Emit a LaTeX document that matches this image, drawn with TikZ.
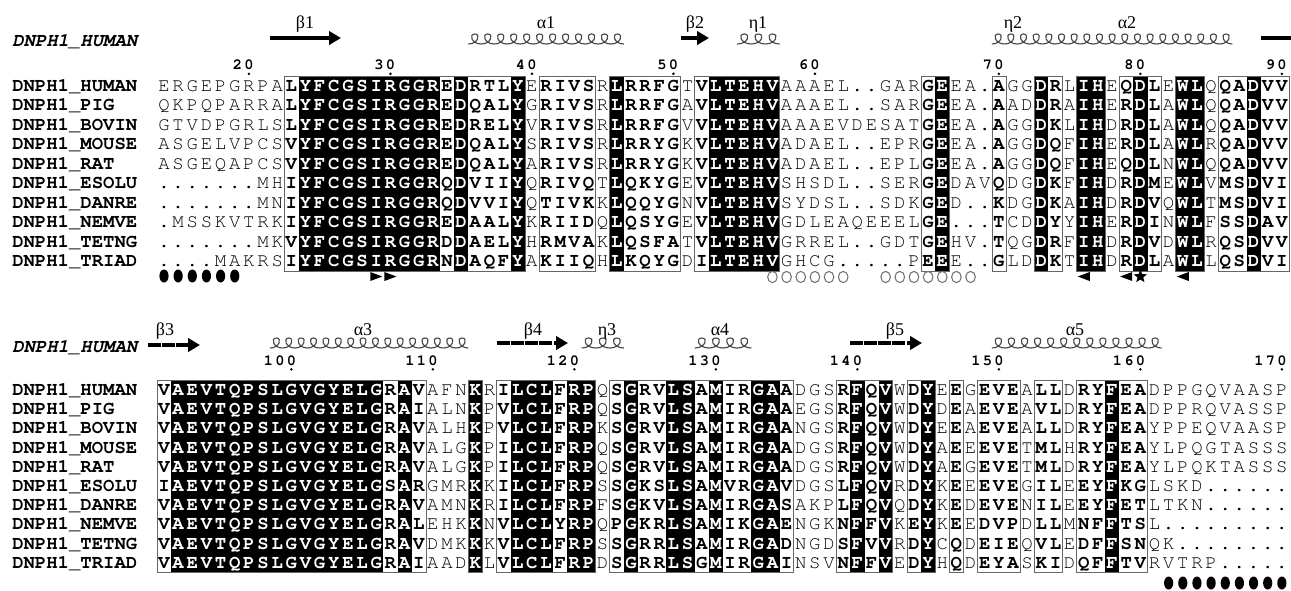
\documentclass[tikz,border=0pt]{standalone}
\usepackage{fontspec}
\setmainfont{Liberation Serif}
\setmonofont{texgyrecursor}[Extension=.otf,UprightFont=*-regular,BoldFont=*-bold,ItalicFont=*-italic,BoldItalicFont=*-bolditalic]
\usetikzlibrary{arrows.meta,shapes.geometric}

\newcommand\seqfont{\ttfamily\fontsize{14.2}{16}\selectfont}
% column classes: n plain, b similar (bold), k identical (black)
\newcommand\topcls{nnnnnnnnnb kkkkkkkkkk bkbbbknbbb bnkbbbbnbk kkkknnnnnn nnnnbknnnb nnkbnkknbk bnkknbbkbb}
\newcommand\botcls{bkkkkkkkkk kkkkkkbkbn nnknbkkkbk knbkbbkkbk bbkkbnnnbk bknbknbnbb bnbbnbbkbb nnnnnnnnnn}
% gaps are typed as - and printed as .
\def\resloop#1#2\relax#3#4\relax{%
  \node[res#1] (\rowtag-\colno) at ({164+14.15*\colno},\rowy) {\ifx-#3.\else#3\fi};%
  \pgfmathtruncatemacro\colno{\colno+1}%
  \ifx\relax#2\relax\else\resloop#2\relax#4\relax\fi}
\newcommand\resrow[4]{\def\rowtag{#1}\def\rowy{#2}\def\colno{0}%
  \edef\next{\noexpand\resloop#3\noexpand\relax#4\noexpand\relax}\next}

\begin{document}
\begin{tikzpicture}[x=0.75pt,y=0.75pt,yscale=-1,xscale=1,
  resn/.style={font=\seqfont,anchor=base,inner sep=0pt},
  resb/.style={resn,font=\seqfont\bfseries},
  resk/.style={resb,text=white},
  namelbl/.style={font=\seqfont\bfseries,anchor=base west,inner sep=0pt},
  titlelbl/.style={font=\seqfont\bfseries\itshape,anchor=base west,inner sep=0pt},
  numlbl/.style={font=\ttfamily\bfseries\fontsize{11.5}{12}\selectfont,anchor=base,inner sep=0pt},
  sslbl/.style={font=\fontsize{13.5}{15}\selectfont,anchor=base,inner sep=0pt},
  frame/.style={draw=black!60,line width=0.5pt},
  helix/.style={draw=black!72,line width=0.85pt},
  strand/.style={line width=3pt,-{Triangle[length=9pt,width=10pt]}},
  segstrand/.style={strand,dash pattern=on 9.6pt off 1pt}]
\useasboundingbox (0,0) rectangle (1291,590);

%Black columns, block 1 and block 2
\foreach \a/\b in {10/19,21/21,25/25,32/32,39/43,55/55,62/62,65/66,69/69,72/73,77/77}
  \fill ({157+14.15*\a},76.25) rectangle ({157+14.15*(\b+1)},271.25);
\foreach \a/\b in {1/15,17/17,22/22,25/27,29/30,33/33,36/37,39/39,42/43,49/49,51/51,54/54,67/67}
  \fill ({157+14.15*\a},380.4) rectangle ({157+14.15*(\b+1)},572);
%Frames
\foreach \a/\b in {9/25,27/30,32/36,38/43,54/55,59/59,62/63,65/66,68/70,72/73,75/79}
  \draw[frame] ({157+14.15*\a},76.25) rectangle ({157+14.15*(\b+1)},271.25);
\foreach \a/\b in {0/18,22/22,24/30,32/44,48/51,53/54,56/56,58/60,62/63,65/69}
  \draw[frame] ({157+14.15*\a},380.4) rectangle ({157+14.15*(\b+1)},572);

%Sequences
\foreach \nm/\sa/\sb [count=\r from 0] in {
  HUMAN/ERGEPGRPAL YFCGSIRGGR EDRTLYERIV SRLRRFGTVL TEHVAAAEL- -GARGEEA-A GGDRLIHEQD LEWLQQADVV/VAEVTQPSLG VGYELGRAVA FNKRILCLFR PQSGRVLSAM IRGAADGSRF QVWDYEEGEV EALLDRYFEA DPPGQVAASP,
  PIG/QKPQPARRAL YFCGSIRGGR EDQALYGRIV SRLRRFGAVL TEHVAAAEL- -SARGEEA-A ADDRAIHERD LAWLQQADVV/VAEVTQPSLG VGYELGRAIA LNKPVLCLFR PQSGRVLSAM IRGAAEGSRF QVWDYDEAEV EAVLDRYFEA DPPRQVASSP,
  BOVIN/GTVDPGRLSL YFCGSIRGGR EDRELYVRIV SRLRRFGVVL TEHVAAAEVD ESATGEEA-A GGDKLIHDRD LAWLQQADVV/VAEVTQPSLG VGYELGRAVA LHKPVLCLFR PKSGRVLSAM IRGAANGSRF QVWDYEEAEV EALLDRYFEA YPPEQVAASP,
  MOUSE/ASGELVPCSV YFCGSIRGGR EDQALYSRIV SRLRRYGKVL TEHVADAEL- -EPRGEEA-A GGDQFIHERD LAWLRQADVV/VAEVTQPSLG VGYELGRAVA LGKPILCLFR PQSGRVLSAM IRGAADGSRF QVWDYAEEEV ETMLHRYFEA YLPQGTASSS,
  RAT/ASGEQAPCSV YFCGSIRGGR EDQALYARIV SRLRRYGKVL TEHVADAEL- -EPLGEEA-A GGDQFIHEQD LNWLQQADVV/VAEVTQPSLG VGYELGRAVA LGKPILCLFR PQSGRVLSAM IRGAADGSRF QVWDYAEGEV ETMLDRYFEA YLPQKTASSS,
  ESOLU/-------MHI YFCGSIRGGR QDVIIYQRIV QTLQKYGEVL TEHVSHSDL- -SERGEDAVQ DGDKFIHDRD MEWLVMSDVI/IAEVTQPSLG VGYELGSARG MRKKILCLFR PSSGKSLSAM VRGAVDGSLF QVRDYKEEEV EGILEEYFKG LSKD------,
  DANRE/-------MNI YFCGSIRGGR QDVVIYQTIV KKLQQYGNVL TEHVSYDSL- -SDKGED--K DGDKAIHDRD VQWLTMSDVI/VAEVTQPSLG VGYELGRAVA MNKRILCLFR PFSGKVLSAM IRGASAKPLF QVQDYKEDEV ENILEEYFET LTKN------,
  NEMVE/-MSSKVTRKI YFCGSIRGGR EDAALYKRII DQLQSYGEVL TEHVGDLEAQ EEELGE---T CDDYYIHERD INWLFSSDAV/VAEVTQPSLG VGYELGRALE HKKNVLCLYR PQPGKRLSAM IKGAENGKNF FVKEYKEEDV PDLLMNFFTS L---------,
  TETNG/-------MKV YFCGSIRGGR DDAELYHRMV AKLQSFATVL TEHVGRREL- -GDTGEHV-T QGDRFIHDRD VDWLRQSDVV/VAEVTQPSLG VGYELGRAVD MKKKVLCLFR PSSGRRLSAM IRGADNGDSF VVRDYCQDEI EQVLEDFFSN QK--------,
  TRIAD/----MAKRSI YFCGSIRGGR NDAQFYAKII QHLKQYGDIL TEHVGHCG-- ---PEEE--G LDDKTIHDRD LAWLLQSDVI/VAEVTQPSLG VGYELGRAIA ADKLVLCLFR PDSGRRLSGM IRGAINSVNF FVEDYHQDEY ASKIDQFFTV RVTRP-----}{
  \pgfmathsetmacro\ya{91.4+19.5*\r}
  \pgfmathsetmacro\yb{395.4+19.2*\r}
  \node[namelbl] (nmA\r) at (12,\ya) {DNPH1\_\nm};
  \node[namelbl] (nmB\r) at (12,\yb) {DNPH1\_\nm};
  \resrow{a\r}{\ya}{\topcls}{\sa}
  \resrow{b\r}{\yb}{\botcls}{\sb}
}

%Titles
\node[titlelbl] (ttlA) at (12,46.4) {DNPH1\_HUMAN};
\node[titlelbl] (ttlB) at (12,352.4) {DNPH1\_HUMAN};

%Numbering, dot under the last digit
\foreach \n/\c/\y in {20/6/69.5,30/16/69.5,40/26/69.5,50/36/69.5,60/46/69.5,70/59/69.5,80/69/69.5,90/79/69.5,
    100/9/365,110/19/365,120/29/365,130/39/365,140/49/365,150/59/365,160/69/365,170/79/365}{
  \pgfmathtruncatemacro\nd{\n>99 ? 2 : 1}
  \foreach \k in {0,...,\nd}{
    \pgfmathtruncatemacro\dg{mod(int(\n/(10^\k)),10)}
    \node[numlbl] (num\n-\k) at ({164+14.15*\c-11.5*\k},\y) {\dg};
  }
  \fill ({164+14.15*\c},\y+4.3) circle (1.4);
}

%Helices
\foreach \a/\b/\y in {22/32/44,41/43/44,59/75/44,8/21/348,30/32/348,38/41/348,59/70/348}{
  \pgfmathsetmacro\hl{157+14.15*\a}
  \pgfmathsetmacro\hw{14.15*(\b-\a+1)}
  \pgfmathtruncatemacro\hn{round(\hw/12.7)}
  \pgfmathsetmacro\hp{\hw/\hn}
  \foreach \k in {1,...,\hn}{
    \pgfmathsetmacro\hc{\hl+\hp*(\k-0.5)}
    \draw[helix] ({\hc-0.5*\hp},\y) .. controls ({\hc+0.25*\hp},\y) and ({\hc+0.48*\hp},{\y-10}) .. ({\hc},{\y-10})
      .. controls ({\hc-0.48*\hp},{\y-10}) and ({\hc-0.25*\hp},\y) .. ({\hc+0.5*\hp},\y);
  }
}

%Strands
\draw[strand] (270,38) -- (341,38);
\draw[strand] (681,38) -- (709,38);
\draw[line width=3pt] (1261,38) -- (1291,38);
\draw[segstrand] (148,345) -- (200,345);
\draw[segstrand] (497,343) -- (568,343);
\draw[segstrand] (850,343) -- (922,343);

%Secondary structure labels
\node[sslbl] (lbB1) at (305,28) {β1};
\node[sslbl] (lbA1) at (546,28) {α1};
\node[sslbl] (lbB2) at (695,28) {β2};
\node[sslbl] (lbE1) at (758,28) {η1};
\node[sslbl] (lbE2) at (1013,28) {η2};
\node[sslbl] (lbA2) at (1127,28) {α2};
\node[sslbl] (lbB3) at (165,335) {β3};
\node[sslbl] (lbA3) at (363,335) {α3};
\node[sslbl] (lbB4) at (533,335) {β4};
\node[sslbl] (lbE3) at (607,335) {η3};
\node[sslbl] (lbA4) at (720,335) {α4};
\node[sslbl] (lbB5) at (895,335) {β5};
\node[sslbl] (lbA5) at (1075,335) {α5};

%Markers
\foreach \c in {0,...,5}
  \fill ({164+14.15*\c},276) ellipse [x radius=4.6,y radius=6.5];
\foreach \c in {71,...,79}
  \fill ({164+14.15*\c},583) ellipse [x radius=4.6,y radius=6.5];
\foreach \c in {15,16}
  \fill ({158+14.15*\c},272) -- ++(12,4.5) -- ++(-12,4.5) -- cycle;
\foreach \c in {65,68,72}
  \fill ({170+14.15*\c},272) -- ++(-12,4.5) -- ++(12,4.5) -- cycle;
\node[star,star points=5,star point ratio=2.3,fill=black,inner sep=0pt,minimum size=10.5pt] (mk69) at ({164+14.15*69},276.5) {};
\foreach \c in {43,...,48}
  \draw[black!55,line width=0.8pt] ({164+14.15*\c},277) ellipse [x radius=4.8,y radius=5.6];
\foreach \c in {51,...,57}
  \draw[black!55,line width=0.8pt] ({164+14.15*\c},277) ellipse [x radius=4.8,y radius=5.6];

\end{tikzpicture}
\end{document}
